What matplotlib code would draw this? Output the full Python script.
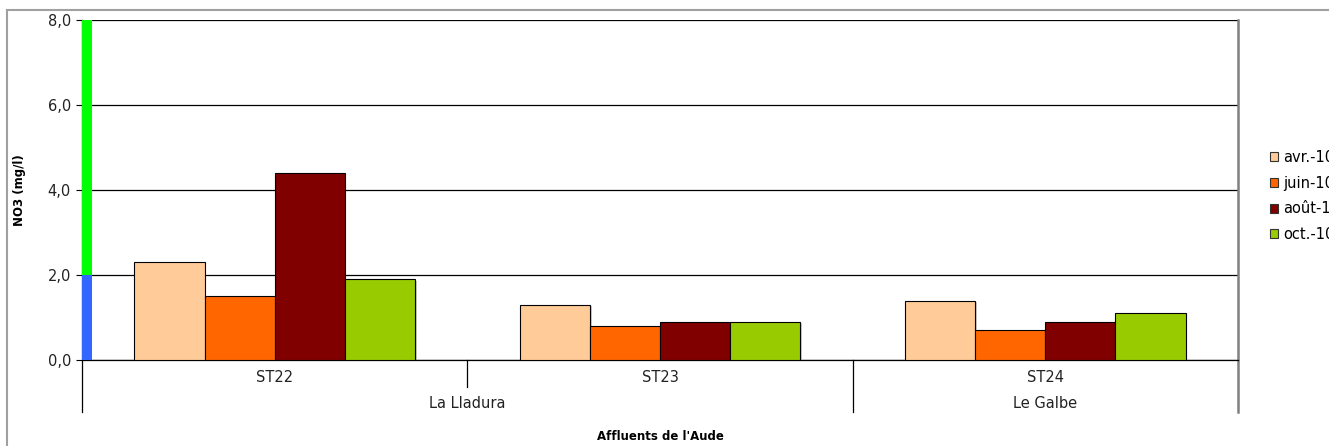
import numpy as np
import matplotlib.pyplot as plt
from matplotlib.patches import Patch, Rectangle
from matplotlib import patheffects
from matplotlib.transforms import blended_transform_factory

# stations, grouped by tributary
stations = ['ST22', 'ST23', 'ST24']
rivers = ['La Lladura', 'Le Galbe']
river_spans = [(0, 1), (2, 2)]  # first/last station index per river

months = ['avr.-10', 'juin-10', 'août-10', 'oct.-10']
colors = ['#FFCC99', '#FF6600', '#800000', '#99CC00']

# NO3 (mg/l), one row per campaign
no3 = [
    [2.3, 1.3, 1.4],
    [1.5, 0.8, 0.7],
    [4.4, 0.9, 0.9],
    [1.9, 0.9, 1.1],
]

# quality classes drawn as a strip on the value axis
class_bounds = [0, 2, 8]
class_colors = ['#3366FF', '#00FF00']

W, H = 1329, 446
fig = plt.figure(figsize=(W / 100, H / 100), dpi=100)
fig.patch.set_facecolor('white')

x0, x1, y_top, y_bot = 82, 1238, 20, 360
ax = fig.add_axes([x0 / W, 1 - y_bot / H, (x1 - x0) / W, (y_bot - y_top) / H])

# outer chart frame
fig.add_artist(Rectangle((7 / W, -0.05), 1.2, 1 - 10 / H + 0.05, transform=fig.transFigure,
                         fill=False, edgecolor='#A0A0A0', linewidth=1.5))

fs = 10.5
n = len(months)
bar_w = 0.182
x = np.arange(len(stations))
shadow = [patheffects.SimplePatchShadow(offset=(1.2, -1.2), shadow_rgbFace='#999999', alpha=0.5),
          patheffects.Normal()]
for i, (m, c) in enumerate(zip(months, colors)):
    bars = ax.bar(x + (i - (n - 1) / 2) * bar_w, no3[i], width=bar_w, color=c,
                  edgecolor='black', linewidth=0.8, label=m, zorder=3)
    for b in bars:
        b.set_path_effects(shadow)

# class strip along the y axis
strip_w = 10 / ((x1 - x0) / 3)
for lo, hi, c in zip(class_bounds[:-1], class_bounds[1:], class_colors):
    ax.bar(-0.5, hi - lo, bottom=lo, width=strip_w, align='edge', color=c,
           linewidth=0, zorder=4)

ax.set_xlim(-0.5, len(stations) - 0.5)
ax.set_ylim(0, 8)
ax.set_yticks([0, 2, 4, 6, 8])
ax.set_yticklabels(['0,0', '2,0', '4,0', '6,0', '8,0'], fontsize=fs, color='#222222')
ax.tick_params(axis='y', length=4, width=0.8, pad=4)
ax.set_xticks([])
ax.yaxis.grid(True, color='black', linewidth=0.9)
ax.set_axisbelow(True)

for s in ['top', 'right']:
    ax.spines[s].set_visible(False)
ax.spines['left'].set_linewidth(0.9)
ax.spines['bottom'].set_linewidth(0.9)

# multi-level category axis
tr = blended_transform_factory(ax.transData, ax.transAxes)
ph = y_bot - y_top
short = -(387 - y_bot) / ph
long = -(412 - y_bot) / ph
ax.plot([-0.5, -0.5], [0, long], transform=tr, color='black', lw=0.9, clip_on=False)
ax.plot([x[-1] + 0.5] * 2, [1, long], transform=tr, color='#808080', lw=1.8, clip_on=False)
for (a, b) in river_spans:
    if b < len(stations) - 1:
        ax.plot([b + 0.5] * 2, [0, long], transform=tr, color='black', lw=0.9, clip_on=False)
    for k in range(a, b):
        ax.plot([k + 0.5] * 2, [0, short], transform=tr, color='black', lw=0.9, clip_on=False)

for xi, s in zip(x, stations):
    ax.text(xi, -(378 - y_bot) / ph, s, transform=tr, ha='center', va='center',
            fontsize=fs, color='#222222')
for (a, b), r in zip(river_spans, rivers):
    ax.text((a + b) / 2, -(403 - y_bot) / ph, r, transform=tr, ha='center', va='center',
            fontsize=fs, color='#222222')

fig.text((x0 + x1) / 2 / W, 1 - 437 / H, "Affluents de l'Aude", ha='center', va='center',
         fontsize=8.5, fontweight='bold')
fig.text(20 / W, 1 - (y_top + y_bot) / 2 / H, 'NO3 (mg/l)', rotation=90, ha='center',
         va='center', fontsize=8.5, fontweight='bold')

handles = [Patch(facecolor=c, edgecolor='#333333', linewidth=0.8) for c in colors]
fig.legend(handles, months, loc='upper left', bbox_to_anchor=(1270 / W, 1 - 150 / H),
           frameon=False, fontsize=fs, handlelength=0.55, handleheight=0.55,
           handletextpad=0.35, labelspacing=0.73, borderpad=0, borderaxespad=0)

fig.savefig('out.png', dpi=100)
